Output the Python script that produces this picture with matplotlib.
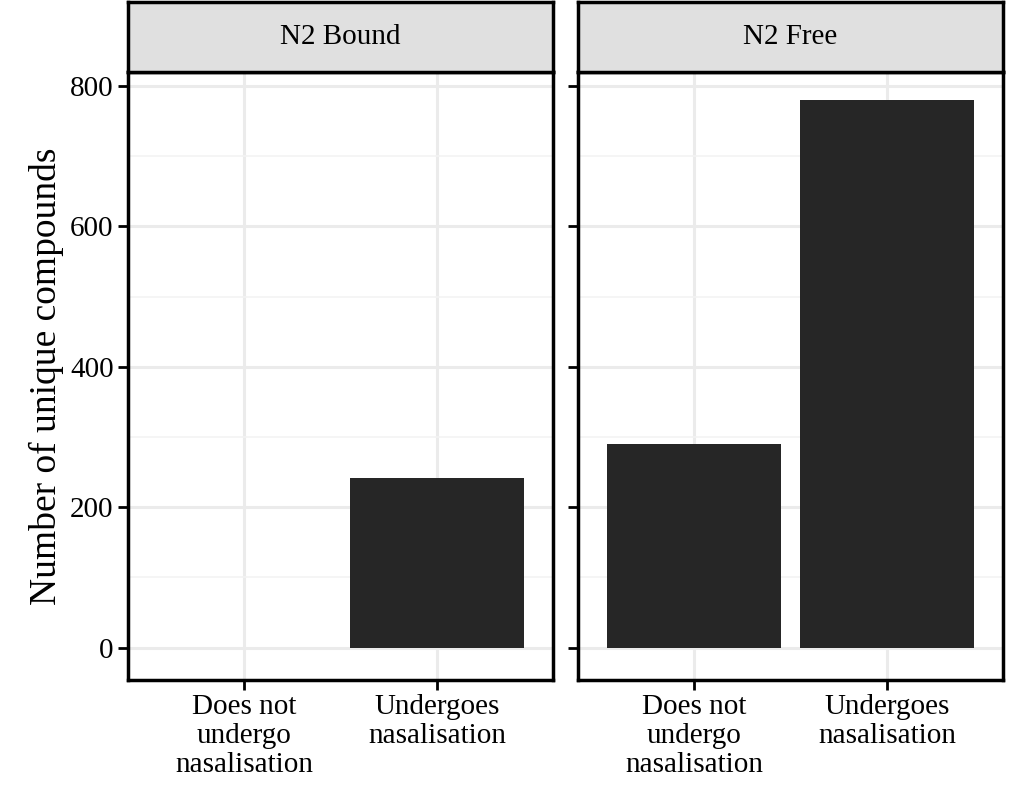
import matplotlib
matplotlib.use("Agg")
import matplotlib.pyplot as plt
from matplotlib.patches import Rectangle

plt.rcParams['font.family'] = ['Liberation Serif', 'DejaVu Serif']

categories = ["Does not\nundergo\nnasalisation", "Undergoes\nnasalisation"]
panels = ["N2 Bound", "N2 Free"]
values = {"N2 Bound": [0, 242], "N2 Free": [290, 780]}
yticks = [0, 200, 400, 600, 800]

fig = plt.figure(figsize=(10.09, 7.98), dpi=100)
lefts = [0.127, 0.573]
w = 0.421
bottom, h = 0.148, 0.762
for i, (p, l) in enumerate(zip(panels, lefts)):
    ax = fig.add_axes([l, bottom, w, h])
    x = [1, 2]
    ax.set_xlim(0.4, 2.6)
    ax.set_ylim(-46, 820)
    ax.set_yticks(yticks)
    ax.set_yticks([100, 300, 500, 700], minor=True)
    ax.set_xticks(x)
    ax.set_xticklabels(categories, fontsize=21, color='black', linespacing=1.15)
    ax.grid(which='major', color='#ebebeb', lw=2.2, zorder=0)
    ax.grid(which='minor', axis='y', color='#f3f3f3', lw=1.2, zorder=0)
    ax.bar(x, values[p], width=0.9, color='#262626', zorder=2)
    for s in ax.spines.values():
        s.set_linewidth(2.5)
        s.set_color('black')
    ax.tick_params(which='major', length=7, width=2, labelsize=21, colors='black')
    ax.tick_params(which='minor', length=0)
    if i == 0:
        ax.set_ylabel("Number of unique compounds", fontsize=27)
    else:
        ax.set_yticklabels([])
    sax = fig.add_axes([l, bottom + h, w, 0.0877])
    sax.set_xticks([]); sax.set_yticks([])
    sax.set_facecolor('#e0e0e0')
    for s in sax.spines.values():
        s.set_linewidth(2.5)
    sax.text(0.5, 0.5, p, ha='center', va='center', fontsize=21, transform=sax.transAxes)

fig.savefig("out.png", dpi=100)
